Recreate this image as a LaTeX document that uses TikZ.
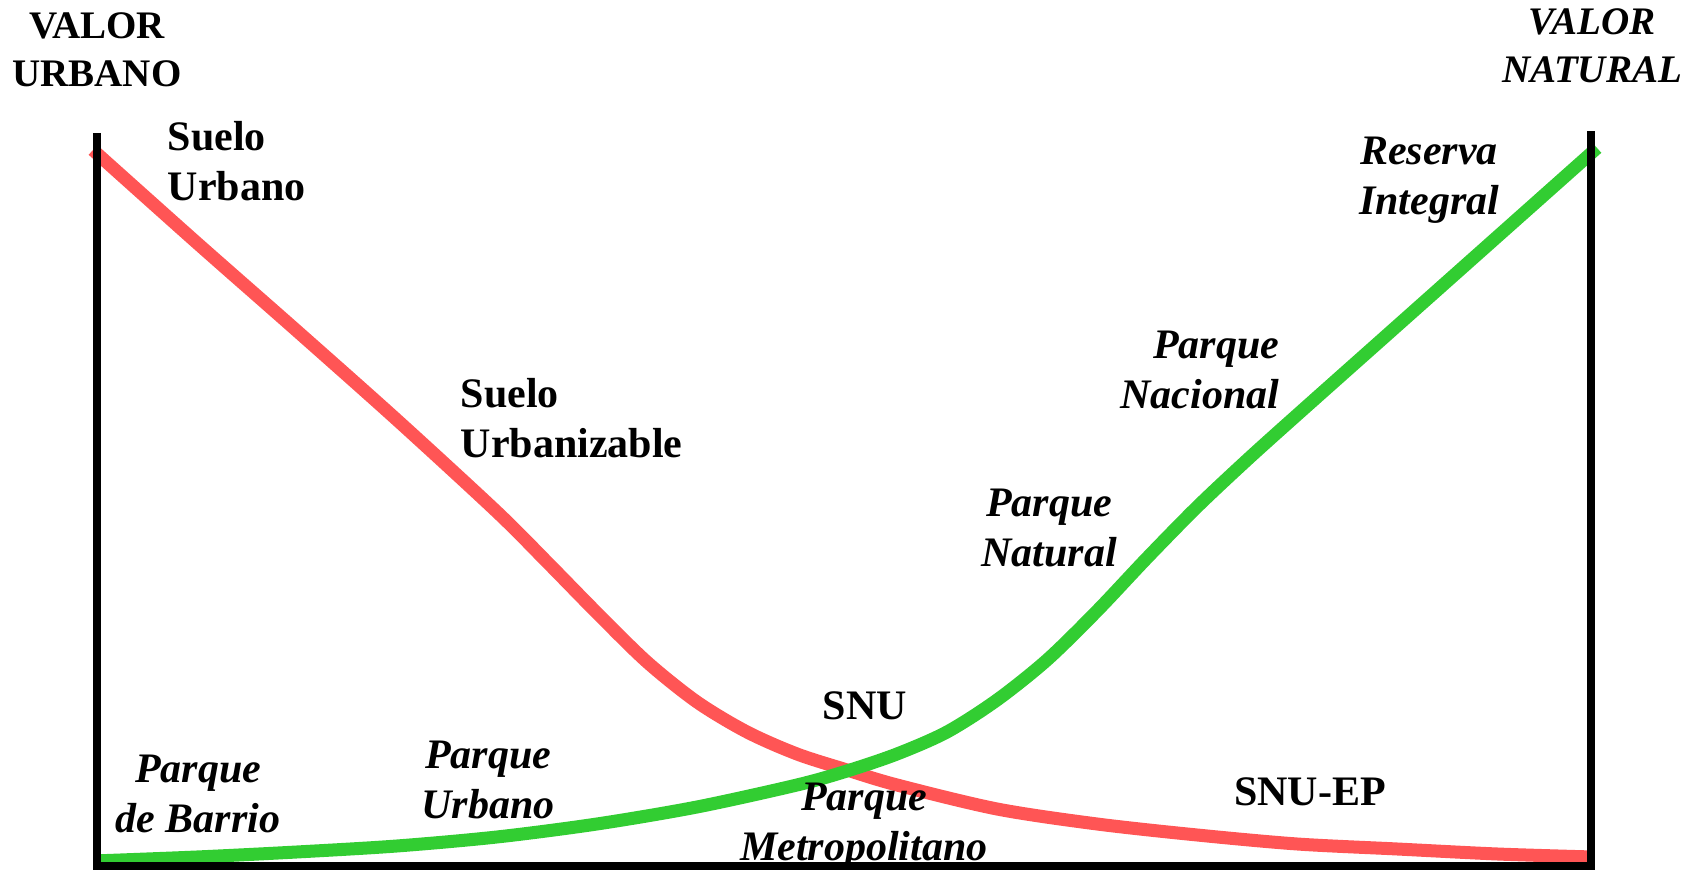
\documentclass[tikz,border=0pt]{standalone}
\usepackage{fontspec}
\setmainfont{Liberation Serif}
\usepackage{xcolor}
\usepackage{tikz}
\definecolor{urbancolor}{RGB}{255,85,85}
\definecolor{naturalcolor}{RGB}{50,205,50}

\begin{document}
\begin{tikzpicture}[
    axisline/.style={line width=0.8mm, line join=miter},
    urbancurve/.style={draw=urbancolor, line width=1.3mm},
    naturalcurve/.style={draw=naturalcolor, line width=1.3mm},
    valuetitle/.style={inner sep=0pt, align=center, font=\fontsize{11.1}{13.65}\selectfont\bfseries},
    zonelabel/.style={inner sep=0pt, align=center, font=\fontsize{11.95}{14.2}\selectfont\bfseries},
    parklabel/.style={inner sep=0pt, align=center, font=\fontsize{11.95}{14.2}\selectfont\bfseries\itshape}
]
    \useasboundingbox (-0.97,-0.04) rectangle (16.03,8.66);

    % Axes
    \coordinate (origin) at (0,0);
    \coordinate (urbantop) at (0,7.33);
    \coordinate (naturalbase) at (14.94,0);
    \coordinate (naturaltop) at (14.94,7.35);

    % Curves
    \draw[urbancurve] plot[smooth] coordinates {(-0.04,7.16) (1,6.23) (2,5.35) (3,4.46) (4,3.54)
        (4.5,3.04) (5,2.53) (5.5,2.04) (6,1.64) (6.5,1.34) (7,1.12) (7.5,0.96) (8,0.81) (9,0.57)
        (10,0.42) (11,0.31) (12,0.22) (13,0.17) (14,0.12) (14.95,0.09)};
    \draw[naturalcurve] plot[smooth] coordinates {(-0.03,0.05) (1,0.09) (2,0.14) (3,0.20) (4,0.29)
        (5,0.42) (6,0.59) (7,0.81) (7.5,0.95) (8,1.12) (8.5,1.34) (9,1.66) (9.5,2.06) (10,2.55)
        (10.5,3.08) (11,3.59) (11.5,4.06) (12,4.51) (13,5.40) (14,6.29) (15.0,7.18)};

    % Labels
    \node[valuetitle] (valorurbano) at (0,8.16) {VALOR\\URBANO};
    \node[valuetitle, font=\fontsize{11.1}{13.65}\selectfont\bfseries\itshape] (valornatural) at (14.95,8.20) {VALOR\\NATURAL};
    \node[zonelabel, anchor=west, align=left] (suelourbano) at (0.70,7.05) {Suelo\\Urbano};
    \node[zonelabel, anchor=west, align=left] (urbanizable) at (3.63,4.48) {Suelo\\Urbanizable};
    \node[parklabel] (reserva) at (13.32,6.86) {Reserva\\Integral};
    \node[parklabel, anchor=east, align=right] (nacional) at (11.83,4.96) {Parque\\Nacional};
    \node[parklabel] (natural) at (9.52,3.38) {Parque\\Natural};
    \node[zonelabel] (snu) at (7.68,1.60) {SNU};
    \node[zonelabel] (snuep) at (12.13,0.74) {SNU-EP};
    \node[parklabel] (metropolitano) at (7.67,0.40) {Parque\\Metropolitano};
    \node[parklabel] (urbano) at (3.91,0.86) {Parque\\Urbano};
    \node[parklabel] (barrio) at (1.01,0.72) {Parque\\de Barrio};

    \draw[axisline] (urbantop) -- (origin) -- (naturalbase) -- (naturaltop);
\end{tikzpicture}
\end{document}
